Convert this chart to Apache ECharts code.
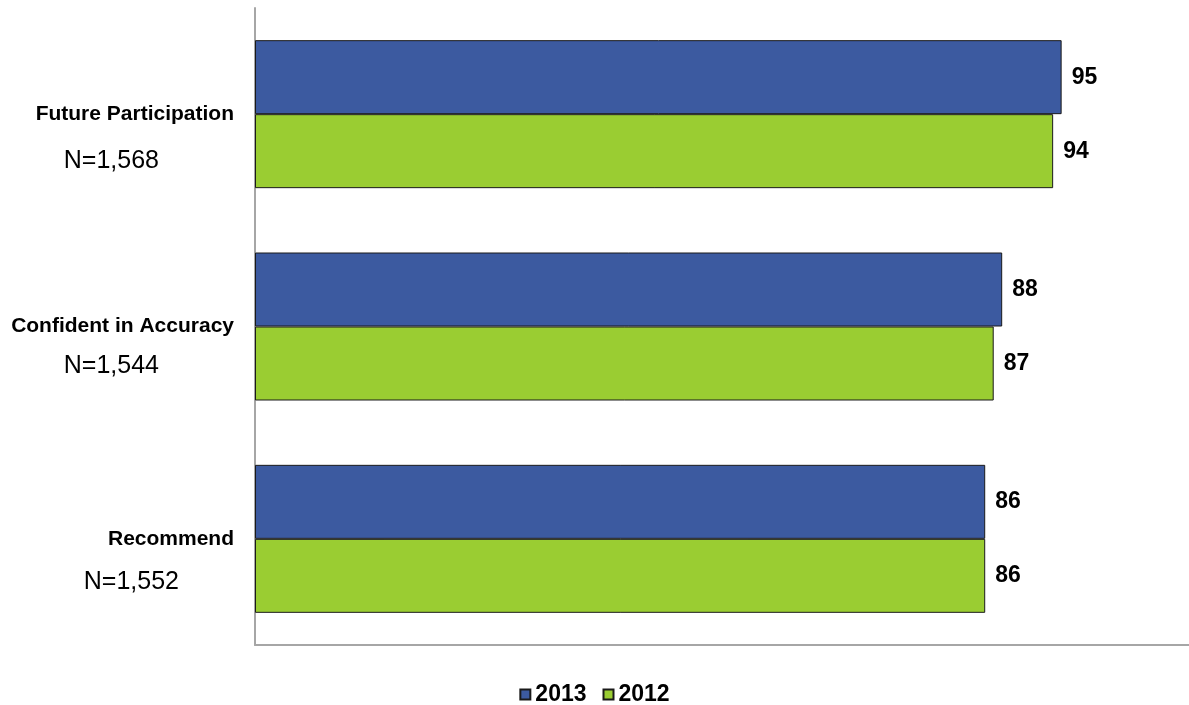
<!DOCTYPE html>
<html>
<head>
<meta charset="utf-8">
<script src="https://cdn.jsdelivr.net/npm/echarts@6/dist/echarts.min.js"></script>
<style>
  html, body { margin: 0; padding: 0; background: #fff; }
  #main { width: 1189px; height: 705px; }
</style>
</head>
<body>
<div id="main"></div>
<script>
const categories = ["Future Participation", "Confident in Accuracy", "Recommend"];
const sampleSizes = ["N=1,568", "N=1,544", "N=1,552"];
const seriesNames = ["2013", "2012"];
const values2013 = [95, 88, 86];
const values2012 = [94, 87, 86];

const font = '"Liberation Sans", Arial, sans-serif';

// per-category offset of the N= line (below the bold name, and to the left)
const nGap = [47, 40, 43];
const nShift = [75, 75, 55];

const rich = { b: { fontFamily: font, fontWeight: "bold", fontSize: 21, lineHeight: 26, color: "#000" } };
nGap.forEach((g, i) => {
  const lh = 2 * (g - 13);
  rich["e" + i] = { fontSize: 10, lineHeight: lh };
  rich["n" + i] = {
    fontFamily: font, fontSize: 25, lineHeight: lh, color: "#000",
    padding: [0, nShift[i], 0, 0]
  };
});

const chart = echarts.init(document.getElementById("main"), null, { renderer: "canvas" });

const barLabel = {
  show: true,
  position: "right",
  distance: 10,
  fontFamily: font,
  fontWeight: "bold",
  fontSize: 23,
  color: "#000"
};

chart.setOption({
  animation: false,
  grid: { left: 255, right: 0, top: 8, bottom: 60, outerBoundsMode: "none", containLabel: false },
  legend: {
    top: 678,
    left: "center",
    itemWidth: 10,
    itemHeight: 10,
    itemGap: 16,
    icon: "rect",
    textStyle: { fontFamily: font, fontWeight: "bold", fontSize: 23, color: "#000" },
    data: seriesNames
  },
  xAxis: {
    type: "value",
    min: 0,
    max: 110,
    axisLine: { show: true, lineStyle: { color: "#a6a6a6", width: 2 } },
    axisTick: { show: false },
    axisLabel: { show: false },
    splitLine: { show: false }
  },
  yAxis: {
    type: "category",
    inverse: true,
    data: categories,
    axisLine: { show: true, lineStyle: { color: "#a6a6a6", width: 2 } },
    axisTick: { show: false },
    axisLabel: {
      margin: 21,
      formatter: (v, i) => "{e" + i + "| }\n{b|" + v + "}\n{n" + i + "|" + sampleSizes[i] + "}",
      rich: rich
    }
  },
  series: [
    {
      name: seriesNames[0],
      type: "bar",
      data: values2013,
      barWidth: 74,
      barGap: "0%",
      itemStyle: { color: "#3c5aa0", borderColor: "#1a1a1a", borderWidth: 1 },
      label: barLabel
    },
    {
      name: seriesNames[1],
      type: "bar",
      data: values2012,
      barWidth: 74,
      barGap: "0%",
      itemStyle: { color: "#9acd32", borderColor: "#1a1a1a", borderWidth: 1 },
      label: barLabel
    }
  ]
});
</script>
</body>
</html>
